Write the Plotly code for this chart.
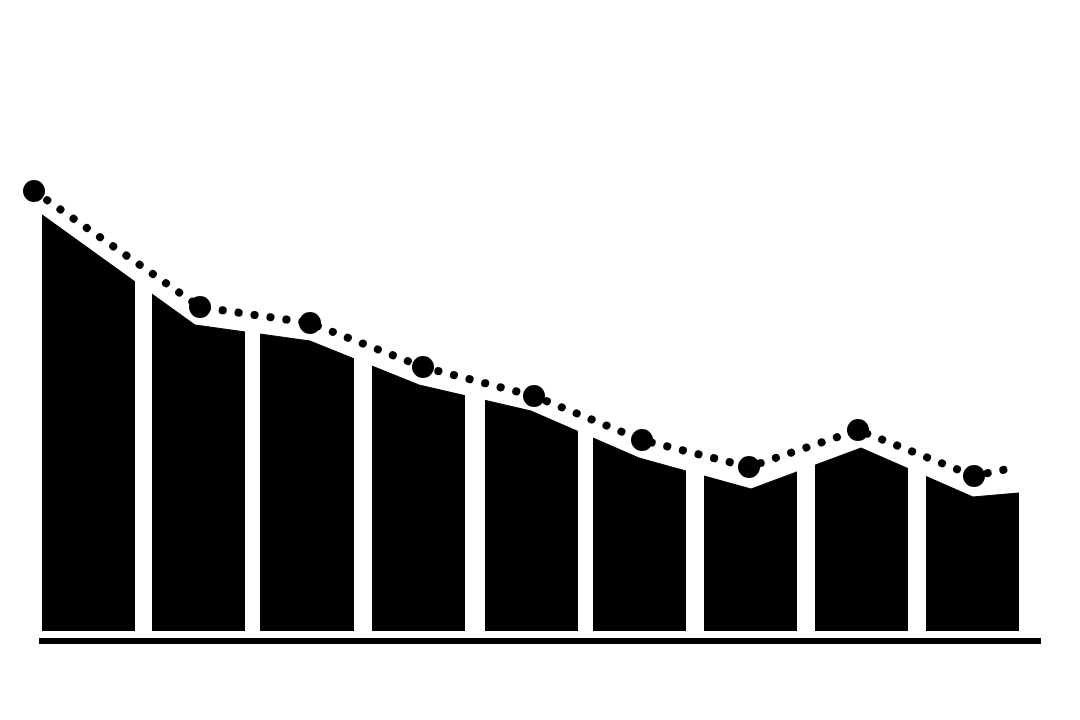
import plotly.graph_objects as go

# area outline (position along x, value)
area_x = [34, 195, 310, 419, 531, 639, 751, 861, 973, 1019]
area_y = [42.2, 30.6, 29.0, 24.6, 22.0, 17.3, 14.2, 18.3, 13.4, 13.8]

# dotted trend line with big markers
trend_x = [34, 200, 310, 423, 534, 642, 749, 858, 974, 1012]
trend_y = [44.0, 32.4, 30.8, 26.4, 23.5, 19.1, 16.4, 20.1, 15.5, 16.3]
marker_x = trend_x[:-1]
marker_y = trend_y[:-1]

# white separators between the columns
gap_left = [28, 135, 245, 354, 465, 578, 686, 797, 908]
gap_right = [42, 152, 260, 372, 485, 593, 704, 815, 926]

# baseline under the columns
base_x = [39, 1041]
base_y = -1.0

fig = go.Figure()

fig.add_trace(go.Scatter(
    x=area_x, y=area_y,
    mode='lines',
    fill='tozeroy',
    fillcolor='black',
    line=dict(color='black', width=1),
    hoverinfo='none'
))

# separators drawn as thick white vertical lines (width in px = gap width)
for a, b in zip(gap_left, gap_right):
    fig.add_trace(go.Scatter(
        x=[(a + b) / 2, (a + b) / 2], y=[-0.5, 60],
        mode='lines',
        line=dict(color='white', width=b - a),
        hoverinfo='none'
    ))

fig.add_trace(go.Scatter(
    x=trend_x, y=trend_y,
    mode='lines',
    line=dict(color='black', width=8, dash='6px,10px'),
    hoverinfo='none'
))

fig.add_trace(go.Scatter(
    x=marker_x, y=marker_y,
    mode='markers',
    marker=dict(color='black', size=22),
    cliponaxis=False,
    hoverinfo='none'
))

fig.add_shape(type='line', x0=base_x[0], x1=base_x[1], y0=base_y, y1=base_y,
              line=dict(color='black', width=6))

# page body has an 8px margin, so the plot area starts at page pixel 8
fig.update_layout(
    width=1080,
    height=720,
    showlegend=False,
    plot_bgcolor='white',
    paper_bgcolor='white',
    margin=dict(l=0, r=0, t=0, b=0),
    xaxis=dict(range=[8, 1088], showgrid=False, zeroline=False,
               showticklabels=False, ticks='', showline=False),
    yaxis=dict(range=[-9.7, 62.3], showgrid=False, zeroline=False,
               showticklabels=False, ticks='', showline=False),
)

# plotly has no line-cap option: turn the dashed line into round dots
round_dots = """
var gd = document.getElementById('{plot_id}');
function roundDots() {
    gd.querySelectorAll('path.js-line').forEach(function(p) {
        var d = p.style.strokeDasharray || '';
        if (d.indexOf('6px') === 0) {
            p.style.strokeLinecap = 'round';
            p.style.strokeDasharray = '0.1px, 16px';
        }
    });
}
roundDots();
gd.on('plotly_afterplot', roundDots);
"""

fig.write_html("out.html", post_script=round_dots)
